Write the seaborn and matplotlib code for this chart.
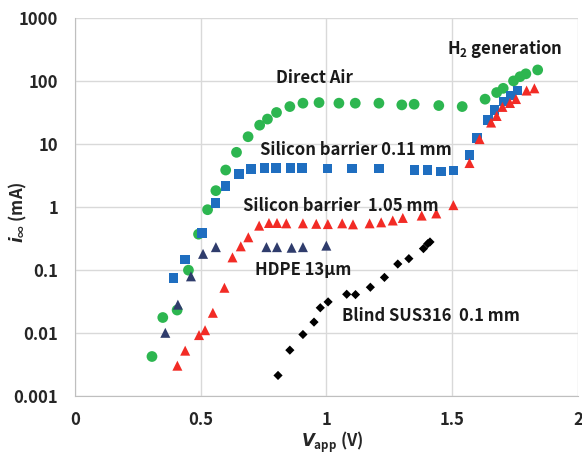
import numpy as np
import pandas as pd
import matplotlib
matplotlib.use("Agg")
import matplotlib.pyplot as plt
import seaborn as sns
from matplotlib.ticker import FuncFormatter, FixedLocator, NullLocator

# ---- data ----
air_x = [0.307, 0.35, 0.407, 0.452, 0.492, 0.528, 0.561, 0.60, 0.643, 0.689, 0.735, 0.766,
         0.802, 0.855, 0.907, 0.971, 1.05, 1.115, 1.209, 1.30, 1.349, 1.447, 1.54, 1.631,
         1.677, 1.703, 1.744, 1.77, 1.793, 1.84]
air_y = [0.0042, 0.0175, 0.023, 0.099, 0.37, 0.906, 1.82, 3.87, 7.4, 13.1, 20, 25,
         31.8, 39.5, 44.7, 45.7, 44.7, 44.7, 44.7, 42, 43, 41, 39.5, 51.8,
         66, 77, 101, 118, 131, 151]

si011_x = [0.393, 0.438, 0.505, 0.56, 0.60, 0.653, 0.701, 0.755, 0.80, 0.857, 0.903, 1.004,
           1.103, 1.21, 1.35, 1.402, 1.456, 1.505, 1.569, 1.60, 1.643, 1.669, 1.705, 1.734, 1.76]
si011_y = [0.074, 0.147, 0.386, 1.16, 2.18, 3.38, 4.0, 4.16, 4.16, 4.16, 4.16, 4.1,
           4.1, 4.1, 3.9, 3.9, 3.67, 3.8, 6.76, 12.4, 24.3, 35, 47.5, 59, 71]

si105_x = [0.408, 0.439, 0.494, 0.518, 0.549, 0.595, 0.627, 0.66, 0.69, 0.733, 0.772, 0.804,
           0.841, 0.907, 0.96, 1.006, 1.063, 1.106, 1.172, 1.218, 1.264, 1.304, 1.379, 1.437,
           1.505, 1.569, 1.609, 1.655, 1.677, 1.70, 1.73, 1.754, 1.796, 1.827]
si105_y = [0.003, 0.0052, 0.0092, 0.011, 0.0208, 0.052, 0.158, 0.237, 0.33, 0.505, 0.557, 0.557,
           0.55, 0.55, 0.54, 0.535, 0.55, 0.53, 0.55, 0.57, 0.61, 0.67, 0.73, 0.79,
           1.07, 5.0, 12, 22, 28, 39, 45, 52, 71, 77]

hdpe_x = [0.36, 0.41, 0.462, 0.51, 0.561, 0.762, 0.804, 0.862, 0.907, 1.0]
hdpe_y = [0.01, 0.028, 0.079, 0.18, 0.23, 0.23, 0.23, 0.225, 0.23, 0.243]

sus_x = [0.808, 0.855, 0.907, 0.951, 0.976, 1.007, 1.081, 1.116, 1.175, 1.231, 1.284,
         1.328, 1.386, 1.403, 1.412]
sus_y = [0.0021, 0.0053, 0.0094, 0.0148, 0.025, 0.031, 0.041, 0.0405, 0.053, 0.076, 0.124,
         0.151, 0.218, 0.261, 0.278]

x_ticks = [0, 0.5, 1, 1.5, 2]
y_ticks = [0.001, 0.01, 0.1, 1, 10, 100, 1000]

labels = ["Direct Air", "H$_2$ generation", "Silicon barrier 0.11 mm",
          "Silicon barrier  1.05 mm", "HDPE 13\u03bcm", "Blind SUS316  0.1 mm"]

# ---- style ----
sns.set_style("white")
FAM = 'Noto Sans CJK JP'
plt.rcParams['font.family'] = [FAM, 'DejaVu Sans']
plt.rcParams['font.weight'] = 'bold'
plt.rcParams['mathtext.fontset'] = 'custom'
plt.rcParams['mathtext.rm'] = FAM + ':bold'
plt.rcParams['mathtext.it'] = 'DejaVu Sans:italic:bold'
plt.rcParams['mathtext.bf'] = FAM + ':bold'

fig = plt.figure(figsize=(5.82, 4.54), dpi=100)
ax = fig.add_axes([0.1284, 0.1284, 0.9930 - 0.1284, 0.9597 - 0.1284])

series = [
    (air_x, air_y, "#2DB650", "o", 60),
    (si011_x, si011_y, "#1F6EC0", "s", 48),
    (si105_x, si105_y, "#F22B25", "^", 52),
    (hdpe_x, hdpe_y, "#2F3C6C", "^", 52),
    (sus_x, sus_y, "#000000", "D", 22),
]
for xs, ys, col, mk, s in series:
    df = pd.DataFrame({"x": xs, "y": ys})
    sns.scatterplot(data=df, x="x", y="y", ax=ax, color=col, marker=mk, s=s,
                    edgecolor="none", linewidth=0, zorder=3)

ax.set_yscale("log")
ax.set_xlim(0, 2)
ax.set_ylim(0.001, 1000)
ax.xaxis.set_major_locator(FixedLocator(x_ticks))
ax.yaxis.set_major_locator(FixedLocator(y_ticks))
ax.yaxis.set_minor_locator(NullLocator())
ax.xaxis.set_major_formatter(FuncFormatter(lambda v, p: f"{v:g}"))
ax.yaxis.set_major_formatter(FuncFormatter(lambda v, p: f"{v:g}"))
ax.grid(True, which="major", color="#D9D9D9", linewidth=1.0, zorder=0)
ax.set_axisbelow(True)
for sp in ax.spines.values():
    sp.set_visible(False)
ax.spines["left"].set_visible(True)
ax.spines["bottom"].set_visible(True)
ax.spines["left"].set_color("#BFBFBF")
ax.spines["bottom"].set_color("#BFBFBF")
ax.tick_params(axis="both", length=0, labelsize=12)
ax.tick_params(axis="y", pad=12)
ax.tick_params(axis="x", pad=11)
for lab in ax.get_xticklabels() + ax.get_yticklabels():
    lab.set_fontweight("bold")

ax.set_xlabel("")
ax.set_ylabel("")
ax.text(0.511, -0.125, "$V_{\\mathrm{app}}$ (V)", transform=ax.transAxes,
        fontsize=12, fontweight="bold", ha="center", va="center")
ax.text(-0.113, 0.487, "$i_{\\infty}$ (mA)", transform=ax.transAxes,
        fontsize=12, fontweight="bold", ha="center", va="center", rotation=90)

txt = dict(fontsize=12, fontweight="bold", ha="left", va="center", color="#1A1A1A", zorder=4)
ax.text(0.799, 113, labels[0], **txt)
ax.text(1.478, 322, labels[1], **txt)
ax.text(0.735, 8.1, labels[2], **txt)
ax.text(0.667, 1.02, labels[3], **txt)
ax.text(0.716, 0.0986, labels[4], **txt)
ax.text(1.063, 0.0183, labels[5], **txt)

fig.savefig("out.png", dpi=100)
